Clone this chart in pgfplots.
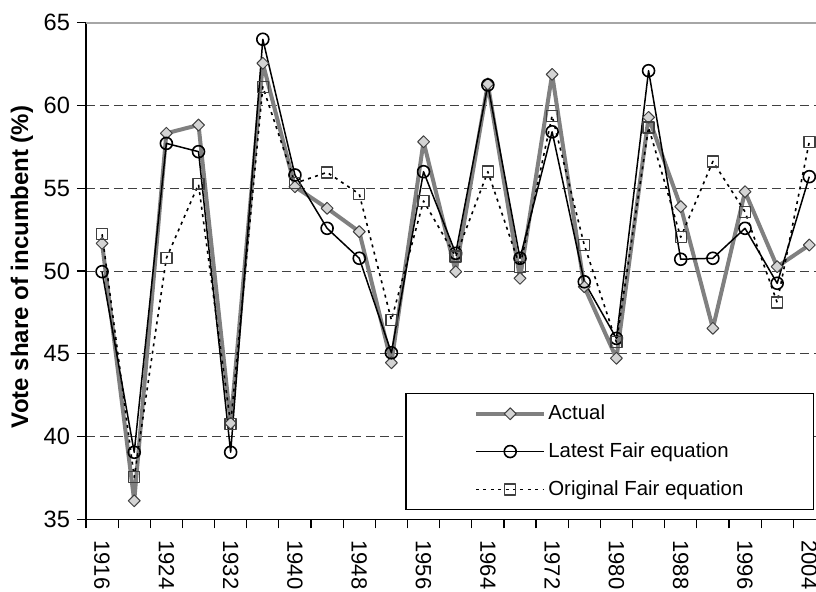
\documentclass[border=0pt]{standalone}
\usepackage{fontspec}
\setmainfont{Liberation Sans}
\usepackage{pgfplots}
\pgfplotsset{compat=1.18}

\definecolor{actline}{HTML}{808080}
\definecolor{actfill}{HTML}{D4D4D4}
\definecolor{mkedge}{HTML}{404040}
\definecolor{gridc}{HTML}{404040}
\definecolor{framec}{HTML}{A6A6A6}

\begin{document}
\begin{tikzpicture}
\useasboundingbox (-43pt,-35.85pt) rectangle (365pt,259.65pt);
\clip (-43pt,-35.85pt) rectangle (365pt,259.65pt);
\begin{axis}[
  at={(0pt,0pt)}, anchor=south west,
  scale only axis, width=369.7pt, height=248.3pt,
  xmin=1914, xmax=2006, ymin=35, ymax=65,
  axis x line*=bottom, axis y line*=left,
  axis line style={black, line width=0.6pt},
  tick align=outside, major tick length=4.5pt,
  tick style={black, line width=0.6pt},
  xtick={1914,1918,...,2006}, xticklabels={},
  extra x ticks={1916,1924,...,2004},
  extra x tick labels={1916,1924,1932,1940,1948,1956,1964,1972,1980,1988,1996,2004},
  extra x tick style={major tick length=0pt,
    xticklabel style={yshift=-7pt, rotate=-90, anchor=west}},
  ytick={35,40,...,60},
  ymajorgrids,
  major grid style={gridc, line width=0.5pt, dash pattern=on 4.3pt off 2.7pt},
  extra y ticks={65},
  extra y tick style={grid=major, major grid style={framec, solid, line width=0.8pt}},
  /pgf/number format/assume math mode=true,
  /pgf/number format/1000 sep={},
  xticklabel style={font=\fontsize{11}{12}\selectfont},
  yticklabel style={font=\fontsize{11.8}{13}\selectfont},
  ylabel={Vote share of incumbent (\%)},
  ylabel style={font=\fontsize{12}{14}\selectfont\bfseries,
    at={(axis description cs:-0.0866,0.508)}, anchor=center},
  legend image code/.code={\draw[mark repeat=2,mark phase=2,#1]
    plot coordinates {(0cm,0cm)(0.6cm,0cm)(1.2cm,0cm)};},
  legend cell align=left,
  legend style={at={(axis description cs:0.9846,0.0187)}, anchor=south east,
    draw=black, line width=0.6pt, fill=white,
    font=\fontsize{10.2}{12}\selectfont,
    inner xsep=34pt, inner ysep=4.6pt, row sep=8pt,
    nodes={inner sep=1pt}},
]
\addplot[actline, line width=2pt, line join=round, mark=square*, mark size=2.1pt,
  mark options={rotate=45, fill=actfill, draw=mkedge, line width=0.5pt, solid}]
  coordinates {(1916,51.67) (1920,36.12) (1924,58.32) (1928,58.82) (1932,40.80)
  (1936,62.55) (1940,55.09) (1944,53.79) (1948,52.38) (1952,44.46) (1956,57.81)
  (1960,49.96) (1964,61.30) (1968,49.56) (1972,61.88) (1976,49.05) (1980,44.73)
  (1984,59.28) (1988,53.89) (1992,46.54) (1996,54.79) (2000,50.26) (2004,51.57)};
\addplot[black, line width=0.75pt, line join=round, mark=o, mark size=3pt,
  mark options={black, line width=0.8pt, solid}]
  coordinates {(1916,49.96) (1920,39.05) (1924,57.71) (1928,57.21) (1932,39.05)
  (1936,64.00) (1940,55.80) (1944,52.58) (1948,50.77) (1952,45.06) (1956,56.00)
  (1960,51.07) (1964,61.24) (1968,50.77) (1972,58.41) (1976,49.35) (1980,45.93)
  (1984,62.10) (1988,50.71) (1992,50.77) (1996,52.58) (2000,49.26) (2004,55.70)};
\addplot[black, line width=0.8pt, line join=round, dash pattern=on 1.5pt off 2.2pt,
  mark=square, mark size=2.75pt, mark options={mkedge, line width=0.7pt, solid}]
  coordinates {(1916,52.22) (1920,37.54) (1924,50.77) (1928,55.24) (1932,40.76)
  (1936,61.13) (1940,55.30) (1944,55.96) (1948,54.65) (1952,47.04) (1956,54.23)
  (1960,50.87) (1964,56.00) (1968,50.26) (1972,59.38) (1976,51.57) (1980,45.70)
  (1984,58.68) (1988,52.04) (1992,56.62) (1996,53.58) (2000,48.10) (2004,57.81)};
\legend{Actual, Latest Fair equation, Original Fair equation}
\end{axis}
\end{tikzpicture}
\end{document}
